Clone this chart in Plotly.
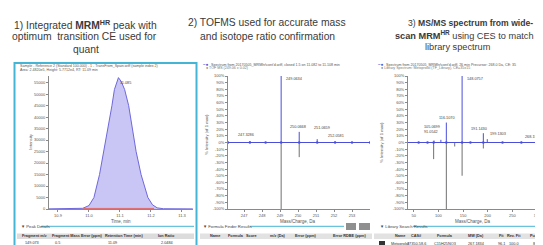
import plotly.graph_objects as go

W, H = 543, 245
FONT = "Liberation Sans, Arial, sans-serif"
CYAN = "#45b5d5"
BLUE = "#4b4fd8"
GRAY_LIB = "#707070"

# ---------------- Panel 1: integrated MRM-HR peak ----------------
rt_min = [10.87, 10.90, 10.94, 10.96, 10.98, 11.00, 11.016, 11.034, 11.048, 11.061,
          11.074, 11.082, 11.088, 11.095, 11.104, 11.115, 11.128, 11.139, 11.152,
          11.168, 11.19, 11.205, 11.22, 11.24, 11.27, 11.30, 11.335]
xic_intensity = [60, 40, 50, 80, 300, 1500, 5000, 15000, 25000, 35000,
                 45000, 52000, 54500, 57200, 55500, 52000, 45000, 35000, 25000,
                 15000, 5000, 1800, 500, 120, 60, 40, 50]
baseline_rt = [10.98, 11.21]
baseline_int = [250, 250]
rt_ticks = [10.9, 11.0, 11.1, 11.2, 11.3]
int_ticks = [0, 5000, 10000, 15000, 20000, 25000, 30000, 35000, 40000, 45000, 50000, 55000]
apex_rt = 11.085
apex_int = 57200

# ---------------- Panel 2: TOF MS isotope pattern ----------------
tof_mz = [247.3286, 249.0634, 250.0668, 251.0659, 252.0581]
tof_int = [2, 100, 16, 5, 1.5]
tof_theo_mz = [249.0634, 250.0668]
tof_theo_int = [-100, -22]
tof_profile_mz = [246.11, 247.3286, 248.2, 249.0634, 250.0668, 251.0659, 252.0581, 253.0, 254.0]
tof_ticks = [247, 248, 249, 250, 251, 252, 253]

# ---------------- Panel 3: MS/MS vs library ----------------
msms_mz = [91.0542, 105.0699, 116.1070, 148.0757, 191.1430, 199.1303, 268.1907]
msms_int = [3, 4, 30, 100, 14, 5, 1]
lib_mz = [90.4, 116.1070, 133.0859, 148.0757, 191.1430]
lib_int = [-25, -100, -6, -50, -9]
msms_profile_mz = [35, 60, 78, 90.4, 116.1070, 148.0757, 165, 191.1430, 230, 268.1907, 300, 343]
msms_ticks = [50, 100, 150, 200, 250, 300]
pct_ticks = [-100, -90, -80, -70, -60, -50, -40, -30, -20, -10, 0,
             10, 20, 30, 40, 50, 60, 70, 80, 90, 100]
pct_text = [f"{v}%" for v in pct_ticks]

# ---------------- Tables ----------------
peak_cols = ["Fragment m/z", "Fragment Mass Error (ppm)", "Retention Time (min)", "Ion Ratio"]
peak_vals = ["149.073", "0.5", "11.09", "2.0484"]
ff_cols = ["Name", "Formula", "Score", "m/z (Da)", "Error (ppm)", "Error RDBE (ppm)"]
lib_cols = ["Name", "CAS#", "Formula", "MW (Da)", "Fit", "Rev. Fit", "Purity"]
lib_vals = ["Metoprolol", "37350-58-6", "C15H25NO3", "267.1834", "96.1", "100.0", "88.1"]


def fx(p):
    return p / W


def fy(p):
    return 1 - p / H


def sticks(mz, inten):
    xs, ys = [], []
    for m, v in zip(mz, inten):
        xs += [m, m, None]
        ys += [0, v, None]
    return xs, ys


fig = go.Figure()

# Panel 1 traces
fig.add_trace(go.Scatter(x=rt_min, y=xic_intensity, mode="lines", fill="tozeroy",
                         fillcolor="rgba(165,160,238,0.6)", line=dict(color="#6e68dc", width=1),
                         xaxis="x", yaxis="y", hoverinfo="skip"))
fig.add_trace(go.Scatter(x=baseline_rt, y=baseline_int, mode="lines",
                         line=dict(color="#e06a6a", width=1), xaxis="x", yaxis="y"))

# Panel 2 traces
xs, ys = sticks(tof_theo_mz, tof_theo_int)
fig.add_trace(go.Scatter(x=xs, y=ys, mode="lines", line=dict(color=GRAY_LIB, width=1),
                         xaxis="x2", yaxis="y2"))
fig.add_trace(go.Scatter(x=tof_profile_mz, y=[0] * len(tof_profile_mz), mode="lines+markers",
                         line=dict(color=BLUE, width=1), marker=dict(size=2.5, color=BLUE),
                         xaxis="x2", yaxis="y2"))
xs, ys = sticks(tof_mz, tof_int)
fig.add_trace(go.Scatter(x=xs, y=ys, mode="lines", line=dict(color=BLUE, width=1),
                         xaxis="x2", yaxis="y2"))

# Panel 3 traces
xs, ys = sticks(lib_mz, lib_int)
fig.add_trace(go.Scatter(x=xs, y=ys, mode="lines", line=dict(color=GRAY_LIB, width=1),
                         xaxis="x3", yaxis="y3"))
fig.add_trace(go.Scatter(x=msms_profile_mz, y=[0] * len(msms_profile_mz), mode="lines+markers",
                         line=dict(color=BLUE, width=1), marker=dict(size=2.5, color=BLUE),
                         xaxis="x3", yaxis="y3"))
xs, ys = sticks(msms_mz, msms_int)
fig.add_trace(go.Scatter(x=xs, y=ys, mode="lines", line=dict(color=BLUE, width=1),
                         xaxis="x3", yaxis="y3"))

axis_common = dict(showline=True, linecolor="#8a8a8a", linewidth=1, ticks="outside",
                   ticklen=2, tickwidth=0.5, tickcolor="#8a8a8a", showgrid=False,
                   zeroline=False, tickfont=dict(size=4, color="#555", family=FONT),
                   tickmode="array", automargin=False)

fig.update_layout(
    template="none",
    width=W, height=H, margin=dict(l=0, r=0, t=0, b=0, pad=0),
    paper_bgcolor="white", plot_bgcolor="white", showlegend=False,
    font=dict(family=FONT),
    xaxis=dict(domain=[fx(41), fx(185)], range=[10.871, 11.3355], anchor="y",
               tickvals=rt_ticks, ticktext=[f"{t:.1f}" for t in rt_ticks], **axis_common),
    yaxis=dict(domain=[fy(201), fy(68)], range=[0, 57900], anchor="x",
               tickvals=int_ticks, ticktext=[str(v) for v in int_ticks], **axis_common),
    xaxis2=dict(domain=[fx(220), fx(362)], range=[246.11, 254.0], anchor="y2",
                tickvals=tof_ticks, ticktext=[str(v) for v in tof_ticks], **axis_common),
    yaxis2=dict(domain=[fy(201), fy(68)], range=[-100, 100], anchor="x2",
                tickvals=pct_ticks, ticktext=pct_text, **axis_common),
    xaxis3=dict(domain=[fx(400), fx(543)], range=[38.4, 328.3], anchor="y3",
                tickvals=msms_ticks, ticktext=[str(v) for v in msms_ticks], **axis_common),
    yaxis3=dict(domain=[fy(201), fy(68)], range=[-100, 100], anchor="x3",
                tickvals=pct_ticks, ticktext=pct_text, **axis_common),
)

anns = []


def ann(text, x, y, size=4, color="#555", xanchor="center", yanchor="middle", textangle=0):
    anns.append(dict(text=text, x=fx(x), y=fy(y), xref="paper", yref="paper",
                     showarrow=False, xanchor=xanchor, yanchor=yanchor, textangle=textangle,
                     font=dict(size=size, color=color, family=FONT)))


# Titles
TC = "#3a3a3a"
ann("1) Integrated <b>MRM<sup>HR</sup></b> peak with", 77, 16.5, 10.3, TC)
ann("optimum  transition CE used for", 76, 29, 10.3, TC)
ann("quant", 78, 41.5, 10.3, TC)
ann("2) TOFMS used for accurate mass", 259, 15, 10.3, TC)
ann("and isotope ratio confirmation", 259, 28.3, 10.3, TC)
ann("3) <b>MS/MS spectrum from wide-</b>", 398, 15, 8.6, TC, xanchor="left")
ann("<b>scan MRM<sup>HR</sup></b> using CES to match", 385, 27, 9.2, TC, xanchor="left")
ann("library spectrum", 450, 38.5, 9.2, TC)

# Panel headers
ann("Sample - Reference 2 (Standard 100.000) - 1 - TransFrom_Spain.wiff (sample index 2)", 10, 58.3, 3.6, "#555", "left")
ann("Area: 2.4820e5, Height: 5.7712e4, RT: 11.09 min", 10, 62, 3.6, "#555", "left")
ann("<b>−●</b>", 193, 56.8, 4.5, BLUE, "left")
ann("Spectrum from 20170505_MRMhr\\cont'd.wiff, closed 1.5 on 11.082 to 11.108 min", 201, 56.8, 3.6, "#555", "left")
ann("● TOF MS (249.06 ± 0.02)", 196, 60.5, 3.6, "#777", "left")
ann("<b>−●</b>", 368, 56.8, 4.5, BLUE, "left")
ann("Spectrum from 20170505_MRMhr\\cont'd.wiff, 26 min Precursor: 268.0 Da, CE: 35", 376, 56.8, 3.6, "#555", "left")
ann("● Library Spectrum: Metoprolol (TF_Library), CE=35±15", 371, 60.5, 3.6, "#777", "left")

# Axis titles
ann("Intensity", 21.7, 133, 4.2, "#555", textangle=-90)
ann("Time, min", 113, 213, 4.5, "#555")
ann("% Intensity (of 1 max)", 198, 127, 4.2, "#555", textangle=-90)
ann("Mass/Charge, Da", 290, 213, 4.5, "#555")
ann("% Intensity (of 1 max)", 373, 135, 4.2, "#555", textangle=-90)
ann("Mass/Charge, Da", 465, 213, 4.5, "#555")

# Section headers and tables
ann("▼ Peak Details", 11, 218.3, 4.2, "#444", "left")
xs_peak = [12, 42, 95, 148]
for c, v, x in zip(peak_cols, peak_vals, xs_peak):
    ann(f"<b>{c}</b>", x, 228.3, 3.8, "#333", "left")
    ann(v, x + 3, 235, 3.8, "#333", "left")

ann("▼ Formula Finder Results", 193, 218.3, 4.2, "#444", "left")
xs_ff = [207, 228, 243, 270, 298, 342]
for c, x in zip(ff_cols, xs_ff):
    ann(f"<b>{c}</b>", x, 228.3, 3.8, "#333")

ann("▼ Library Search Results", 370, 218.3, 4.2, "#444", "left")
xs_lib = [392, 408, 437, 468, 493, 506, 528]
for c, v, x in zip(lib_cols, lib_vals, xs_lib):
    ann(f"<b>{c}</b>", x, 228.3, 3.8, "#333")
    ann(v, x, 236, 3.8, "#333")

# Peak labels (data coordinates)
anns.append(dict(text=f"{apex_rt:.3f}", x=apex_rt, y=apex_int, xref="x", yref="y",
                 showarrow=False, xanchor="left", yanchor="top", xshift=3, yshift=-1,
                 font=dict(size=3.8, color="#444", family=FONT)))

tof_label_shift = [(-4, 2, "center", "bottom"), (3, -3, "left", "middle"),
                   (-1, 1, "center", "bottom"), (5, 7, "center", "bottom"),
                   (1, 2, "center", "bottom")]
for m, v, (dx, dy, xa, ya) in zip(tof_mz, tof_int, tof_label_shift):
    anns.append(dict(text=f"{m:.4f}", x=m, y=v, xref="x2", yref="y2", showarrow=False,
                     xanchor=xa, yanchor=ya, xshift=dx, yshift=dy,
                     font=dict(size=3.8, color="#444", family=FONT)))

msms_label_shift = [(-3, 5, "center", "bottom"), (-9, 9, "center", "bottom"),
                    (1, 1, "center", "bottom"), (3, -3, "left", "middle"),
                    (-4, 0, "center", "bottom"), (1, 1, "left", "bottom"),
                    (2, 1, "left", "bottom")]
for m, v, (dx, dy, xa, ya) in zip(msms_mz, msms_int, msms_label_shift):
    anns.append(dict(text=f"{m:.4f}", x=m, y=v, xref="x3", yref="y3", showarrow=False,
                     xanchor=xa, yanchor=ya, xshift=dx, yshift=dy,
                     font=dict(size=3.8, color="#444", family=FONT)))

fig.update_layout(annotations=anns)

shapes = []


def rect(x0, y0, x1, y1, fill=None, line=None, lw=0):
    shapes.append(dict(type="rect", xref="paper", yref="paper", x0=fx(x0), x1=fx(x1),
                       y0=fy(y1), y1=fy(y0), fillcolor=fill or "rgba(0,0,0,0)",
                       line=dict(color=line or "rgba(0,0,0,0)", width=lw), layer="below"))


def hline(x0, x1, y, color, lw=1):
    shapes.append(dict(type="line", xref="paper", yref="paper", x0=fx(x0), x1=fx(x1),
                       y0=fy(y), y1=fy(y), line=dict(color=color, width=lw)))


# table header backgrounds
rect(9, 225.5, 186, 231, fill="#dcdcdc")
rect(192, 225.5, 364, 231, fill="#e2e2e2")
rect(366, 225.5, 543, 231, fill="#e2e2e2")
# section separator lines
hline(33, 186, 218.3, CYAN, 1)
hline(242, 336, 218.3, CYAN, 1)
hline(405, 531, 218.3, CYAN, 1)
# buttons
rect(338, 215, 348, 222, fill="#8f8f8f")
rect(351, 215, 362, 222, fill="#8f8f8f")
rect(533, 214, 543, 222, fill=CYAN)
# library row icon and scrollbar
rect(371, 233, 377, 239, fill="#333")
rect(370, 241, 520, 243, fill="#c4c4c4")
# panel 1 border
shapes.append(dict(type="rect", xref="paper", yref="paper", x0=fx(6.5), x1=fx(188.5),
                   y0=fy(243), y1=fy(55), line=dict(color=CYAN, width=2),
                   fillcolor="rgba(0,0,0,0)"))
fig.update_layout(shapes=shapes)

fig.write_html("out.html")
